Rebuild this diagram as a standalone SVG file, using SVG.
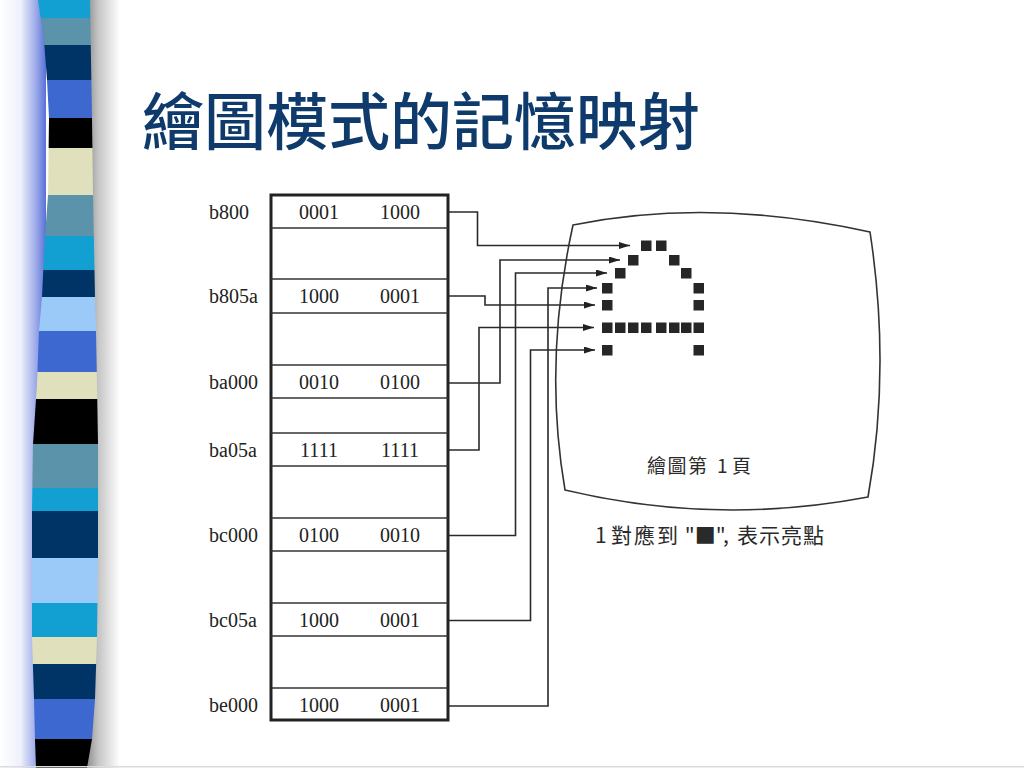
<svg xmlns="http://www.w3.org/2000/svg" width="1024" height="768" viewBox="0 0 1024 768">
<defs>
<style>
.lbl{font-family:"Liberation Serif","Times New Roman",serif;font-size:20px;fill:#222}
.val{font-family:"Liberation Serif","Times New Roman",serif;font-size:20px;fill:#222;text-anchor:middle}
.rowline{stroke:#333;stroke-width:1.6;fill:none}
.conn{stroke:#2a2a2a;stroke-width:1.6;fill:none}
.px{fill:#262626}
.cjk{font-family:"Noto Sans CJK TC","Noto Sans CJK SC",sans-serif;fill:#2a2a2a}
</style>
<marker id="arr" viewBox="0 0 11 7" refX="11" refY="3.5" markerWidth="11" markerHeight="7" markerUnits="userSpaceOnUse" orient="auto">
<path d="M0,0 L11,3.5 L0,7 z" fill="#222"/>
</marker>
<linearGradient id="glow" x1="0" y1="0" x2="1" y2="0">
<stop offset="0" stop-color="#ffffff"/>
<stop offset="0.45" stop-color="#eef0fb"/>
<stop offset="0.8" stop-color="#98a6e8"/>
<stop offset="1" stop-color="#5a70d8"/>
</linearGradient>
<linearGradient id="shade" x1="0" y1="0" x2="1" y2="0">
<stop offset="0" stop-color="#8a8a8a"/>
<stop offset="0.35" stop-color="#c4c4c4"/>
<stop offset="1" stop-color="#ffffff"/>
</linearGradient>
<clipPath id="barclip">
<path d="M38,0 L44,40 L47,80 L49,118 L48,195 L45,236 L42,297 L39,331 L37,384 L33,444 L32,511 L32,637 L34,699 L35,739 L36,768 L87,768 L92,739 L95,699 L97,637 L98,558 L98,444 L97,384 L96,331 L95,297 L93,195 L92,118 L91,60 L90,0 Z"/>
</clipPath>
</defs>
<rect width="1024" height="768" fill="#ffffff"/>
<g id="side-bar">
<rect x="0" y="0" width="46" height="768" fill="url(#glow)"/>
<rect x="86" y="0" width="34" height="768" fill="url(#shade)"/>
<g clip-path="url(#barclip)">
<rect x="30" y="0" width="70" height="18" fill="#12a0d2"/>
<rect x="30" y="18" width="70" height="27" fill="#5b93aa"/>
<rect x="30" y="45" width="70" height="35" fill="#003466"/>
<rect x="30" y="80" width="70" height="38" fill="#3c68cf"/>
<rect x="30" y="118" width="70" height="30" fill="#000000"/>
<rect x="30" y="148" width="70" height="47" fill="#e0e0bd"/>
<rect x="30" y="195" width="70" height="41" fill="#5b93aa"/>
<rect x="30" y="236" width="70" height="34" fill="#12a0d2"/>
<rect x="30" y="270" width="70" height="27" fill="#003466"/>
<rect x="30" y="297" width="70" height="34" fill="#9ccaf8"/>
<rect x="30" y="331" width="70" height="41" fill="#3c68cf"/>
<rect x="30" y="372" width="70" height="27" fill="#e0e0bd"/>
<rect x="30" y="399" width="70" height="45" fill="#000000"/>
<rect x="30" y="444" width="70" height="44" fill="#5b93aa"/>
<rect x="30" y="488" width="70" height="23" fill="#12a0d2"/>
<rect x="30" y="511" width="70" height="47" fill="#003466"/>
<rect x="30" y="558" width="70" height="45" fill="#9ccaf8"/>
<rect x="30" y="603" width="70" height="34" fill="#12a0d2"/>
<rect x="30" y="637" width="70" height="27" fill="#e0e0bd"/>
<rect x="30" y="664" width="70" height="35" fill="#003466"/>
<rect x="30" y="699" width="70" height="40" fill="#3c68cf"/>
<rect x="30" y="739" width="70" height="29" fill="#000000"/>
</g>
<rect x="0" y="766" width="1024" height="1.5" fill="#dcdcdc"/>
</g>
<g id="title">
<text x="142" y="145" font-family="'Noto Sans CJK TC','Noto Sans CJK SC',sans-serif" font-size="62" font-weight="500" fill="#0e3a6c">繪圖模式的記憶映射</text>
</g>
<g id="memory">
<rect x="271" y="195" width="177" height="525" fill="none" stroke="#222" stroke-width="3"/>
<g id="row-b800">
<line class="rowline" x1="271" y1="228" x2="448" y2="228"/>
<text class="lbl" x="209" y="219">b800</text>
<text class="val" x="319" y="219">0001</text>
<text class="val" x="400" y="219">1000</text>
</g>
<g id="row-b805a">
<line class="rowline" x1="271" y1="279" x2="448" y2="279"/>
<line class="rowline" x1="271" y1="313" x2="448" y2="313"/>
<text class="lbl" x="209" y="303">b805a</text>
<text class="val" x="319" y="303">1000</text>
<text class="val" x="400" y="303">0001</text>
</g>
<g id="row-ba000">
<line class="rowline" x1="271" y1="365" x2="448" y2="365"/>
<line class="rowline" x1="271" y1="398" x2="448" y2="398"/>
<text class="lbl" x="209" y="389">ba000</text>
<text class="val" x="319" y="389">0010</text>
<text class="val" x="400" y="389">0100</text>
</g>
<g id="row-ba05a">
<line class="rowline" x1="271" y1="433" x2="448" y2="433"/>
<line class="rowline" x1="271" y1="466" x2="448" y2="466"/>
<text class="lbl" x="209" y="457">ba05a</text>
<text class="val" x="319" y="457">1111</text>
<text class="val" x="400" y="457">1111</text>
</g>
<g id="row-bc000">
<line class="rowline" x1="271" y1="518" x2="448" y2="518"/>
<line class="rowline" x1="271" y1="551" x2="448" y2="551"/>
<text class="lbl" x="209" y="542">bc000</text>
<text class="val" x="319" y="542">0100</text>
<text class="val" x="400" y="542">0010</text>
</g>
<g id="row-bc05a">
<line class="rowline" x1="271" y1="603" x2="448" y2="603"/>
<line class="rowline" x1="271" y1="636" x2="448" y2="636"/>
<text class="lbl" x="209" y="627">bc05a</text>
<text class="val" x="319" y="627">1000</text>
<text class="val" x="400" y="627">0001</text>
</g>
<g id="row-be000">
<line class="rowline" x1="271" y1="688" x2="448" y2="688"/>
<text class="lbl" x="209" y="712">be000</text>
<text class="val" x="319" y="712">1000</text>
<text class="val" x="400" y="712">0001</text>
</g>
</g>
<g id="connectors">
<path class="conn" marker-end="url(#arr)" d="M449,212 H477.5 V245.5 H630"/>
<path class="conn" marker-end="url(#arr)" d="M449,296 H485 V305 H595"/>
<path class="conn" marker-end="url(#arr)" d="M449,383 H500 V260 H620"/>
<path class="conn" marker-end="url(#arr)" d="M449,450 H479 V327.5 H594"/>
<path class="conn" marker-end="url(#arr)" d="M449,535.5 H515.5 V273 H607"/>
<path class="conn" marker-end="url(#arr)" d="M449,620.5 H530.5 V350 H595"/>
<path class="conn" marker-end="url(#arr)" d="M449,706 H548 V288 H597"/>
</g>
<g id="screen">
<path d="M573,225 Q712,197 870,232 Q891,369 868,497 Q716,526 565,490 Q543,362 573,225 Z" fill="none" stroke="#333" stroke-width="1.6"/>
<g id="pixels">
<rect class="px" x="641" y="240.5" width="10.5" height="10.5"/>
<rect class="px" x="656" y="240.5" width="10.5" height="10.5"/>
<rect class="px" x="628" y="255" width="10.5" height="10.5"/>
<rect class="px" x="669" y="255" width="10.5" height="10.5"/>
<rect class="px" x="615" y="268" width="10.5" height="10.5"/>
<rect class="px" x="681" y="268" width="10.5" height="10.5"/>
<rect class="px" x="602" y="283" width="10.5" height="10.5"/>
<rect class="px" x="693.5" y="283" width="10.5" height="10.5"/>
<rect class="px" x="602" y="300" width="10.5" height="10.5"/>
<rect class="px" x="693.5" y="300" width="10.5" height="10.5"/>
<rect class="px" x="602" y="322.5" width="10.5" height="10.5"/>
<rect class="px" x="615" y="322.5" width="10.5" height="10.5"/>
<rect class="px" x="628" y="322.5" width="10.5" height="10.5"/>
<rect class="px" x="641" y="322.5" width="10.5" height="10.5"/>
<rect class="px" x="656" y="322.5" width="10.5" height="10.5"/>
<rect class="px" x="669" y="322.5" width="10.5" height="10.5"/>
<rect class="px" x="681" y="322.5" width="10.5" height="10.5"/>
<rect class="px" x="693.5" y="322.5" width="10.5" height="10.5"/>
<rect class="px" x="602" y="345" width="10.5" height="10.5"/>
<rect class="px" x="693.5" y="345" width="10.5" height="10.5"/>
</g>
<text class="cjk" font-size="19" y="473"><tspan x="647" letter-spacing="1.5">繪圖第 </tspan><tspan x="717">1 </tspan><tspan x="732">頁</tspan></text>
</g>
<g id="caption">
<text class="cjk" font-size="21" y="543"><tspan x="595">1 </tspan><tspan x="611" letter-spacing="2">對應到</tspan><tspan x="680"> "■", </tspan><tspan x="737" letter-spacing="1">表示亮點</tspan></text>
</g>
</svg>
